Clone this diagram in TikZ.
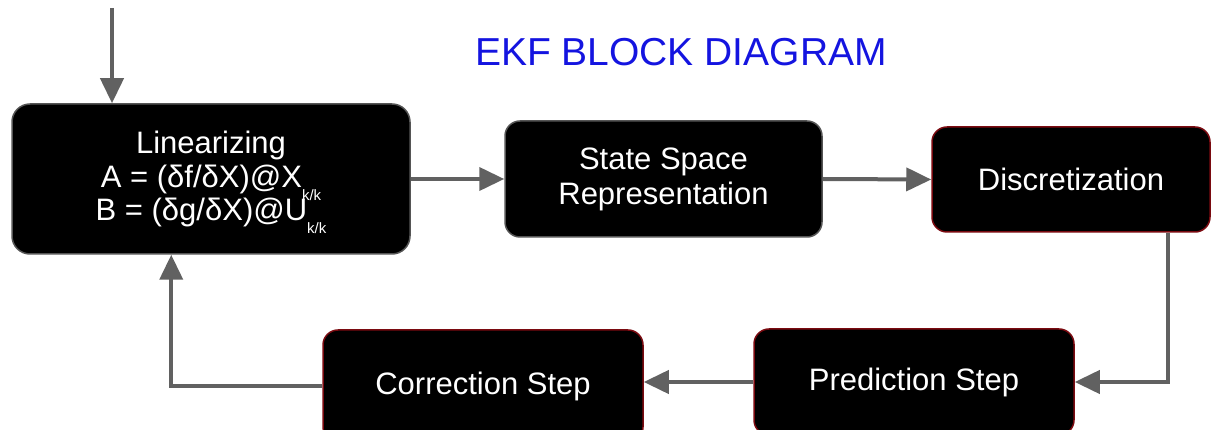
\documentclass[tikz,border=0pt]{standalone}
\usepackage{fontspec}
\setmainfont{Liberation Sans}
\usetikzlibrary{arrows.meta}
\definecolor{arrgray}{HTML}{616161}
\definecolor{titleblue}{HTML}{1414E0}
\definecolor{edgered}{HTML}{7A0A10}
\definecolor{edgegray}{HTML}{555555}
\tikzset{
  blk/.style={fill=black, text=white, rounded corners=18pt, line width=1.5pt, align=center, inner sep=0pt},
  grayblk/.style={blk, draw=edgegray},
  redblk/.style={blk, draw=edgered},
  arr/.style={draw=arrgray, line width=4pt, -{Triangle[length=25pt,width=23pt]}},
  bigtxt/.style={font=\fontsize{31}{35}\selectfont},
  lintxt/.style={font=\fontsize{31}{33.5}\selectfont},
}
\newcommand{\kksub}{\smash{\raisebox{-0.42em}{\fontsize{15}{15}\selectfont k/k}}}
\begin{document}
\begin{tikzpicture}[x=1pt,y=-1pt]
\useasboundingbox (0,0) rectangle (1211,430);
\clip (0,0) rectangle (1211,430);

\node[text=titleblue, font=\fontsize{39}{41}\selectfont] (title) at (681,52) {EKF BLOCK DIAGRAM};

\node[grayblk, lintxt, minimum width=398pt, minimum height=150pt] (Lin) at (211,179)
  {Linearizing\\A = (δf/δX)@X\kksub\\B = (δg/δX)@U\kksub};
\node[grayblk, bigtxt, minimum width=317pt, minimum height=116pt, rounded corners=15pt] (SS) at (663.5,179)
  {State Space\\Representation};
\node[redblk, bigtxt, minimum width=278pt, minimum height=105pt, rounded corners=15pt] (Disc) at (1071,179.5)
  {Discretization};
\node[redblk, bigtxt, minimum width=320pt, minimum height=112pt, rounded corners=15pt] (Corr) at (483,386)
  {Correction Step};
\node[redblk, bigtxt, minimum width=320pt, minimum height=106pt, rounded corners=15pt] (Pred) at (914,382)
  {Prediction Step};

\coordinate (inp) at (112,8);
\path (Lin.south west) ++(160,0) coordinate (linin);
\path (Disc.south) ++(97,0) coordinate (discout);

\draw[arr] (inp) -- (inp |- Lin.north);
\draw[arr] (Lin.east) -- (SS.west);
\draw[arr] (SS.east) -- (Disc.west);
\draw[arr] (discout) |- (Pred.east);
\draw[arr] (Pred.west) -- (Pred.west -| Corr.east);
\draw[arr] (Corr.west) -| (linin);
\end{tikzpicture}
\end{document}
